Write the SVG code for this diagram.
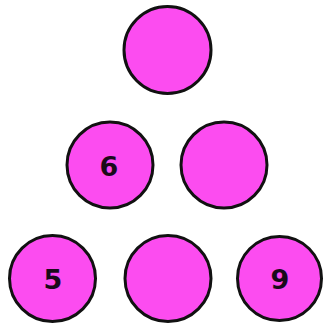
<svg xmlns="http://www.w3.org/2000/svg" width="323" height="323" viewBox="0 0 323 323">
<style>
.c{fill:#fc4cf0;stroke:#111;stroke-width:3}
.t{font-family:"DejaVu Sans",sans-serif;font-weight:bold;font-size:27px;fill:#1a0a1a;text-anchor:middle}
</style>
<rect width="323" height="323" fill="#fff"/>
<g id="n1"><circle class="c" cx="167.5" cy="50" r="43.5"/></g>
<g id="n2"><circle class="c" cx="110" cy="165" r="43"/><text class="t" x="109" y="176">6</text></g>
<g id="n3"><circle class="c" cx="224" cy="165" r="43"/></g>
<g id="n4"><circle class="c" cx="52.5" cy="278.5" r="43"/><text class="t" x="53" y="289">5</text></g>
<g id="n5"><circle class="c" cx="168" cy="278.5" r="43"/></g>
<g id="n6"><circle class="c" cx="279.5" cy="278.5" r="42"/><text class="t" x="280" y="289">9</text></g>
<g id="connectors"></g>
</svg>
